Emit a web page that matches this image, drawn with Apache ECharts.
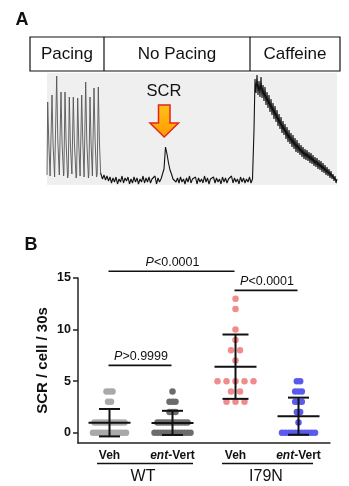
<!DOCTYPE html>
<html>
<head>
<meta charset="utf-8">
<script src="https://cdn.jsdelivr.net/npm/echarts@6/dist/echarts.min.js"></script>
<style>html,body{margin:0;padding:0;background:#fff}#c{width:349px;height:486px}</style>
</head>
<body>
<div id="c"></div>
<script>
// ---------- Panel A data (Ca2+ trace, arbitrary units) ----------
const pacingTrace = [
  [0,10],[0.7,83],[1.8,42],[3.1,9],
  [3.9,11],[5,90],[6.1,40],[7.6,8],
  [8.6,10],[9.7,109],[10.8,45],[12.3,10],
  [12.9,8],[14,93],[15.1,41],[16.6,9],
  [16.9,12],[18,93],[19.1,43],[20.6,7],
  [21.2,10],[22.3,88],[23.4,40],[24.9,11],
  [25.2,9],[26.3,88],[27.4,42],[29.1,7],
  [29.6,10],[30.7,87],[31.8,40],[33.1,9],
  [33.6,11],[34.7,90],[35.8,43],[37.1,8],
  [37.6,10],[38.7,103],[39.8,44],[41.4,7],
  [41.9,11],[43,88],[44.1,41],[45.4,9],
  [45.9,10],[47,97],[48.1,45],[49.5,8],
  [50.2,11],[51.3,98],[52.4,44],[53.6,12]
];
const restStart = 54, restStep = 1.5;
const restTrace = [
  11,6,10,5,9,4,8,
  2,7,3,8,1,6,3,9,2,7,4,8,1,6,2,8,3,7,1,6,3,9,2,7,3,8,2,6,4,9,1,7,3,6,
  5,16,38,31,22,15,11,6,8,3,
  7,2,8,3,6,1,7,3,9,2,6,4,8,1,7,3,6,2,9,3,7,1,6,4,8,2,7,3,6,1,8,3,7,2,6,4,9,2,7,3,6,1,8,3,7,2,6,3,8,2,6
];
const caffStart = 206, caffStep = 1;
const caffeineTrace = [
  5,55,106,92,110,90,104,88,108,87,100,84,98,80,93,77,90,73,86,70,82,66,79,63,75,59,71,56,68,52,
  64,50,61,46,58,43,55,41,52,38,50,36,47,33,45,32,42,30,40,28,38,26,36,25,35,24,33,22,32,21,
  30,19,28,18,27,16,25,15,24,13,22,12,20,10,18,9,16,7,14,6,11,4,9,2,6
];
const phaseLabels = ['Pacing', 'No Pacing', 'Caffeine'];

// ---------- Panel B data ----------
const categories = ['WT Veh', 'WT ent-Vert', 'I79N Veh', 'I79N ent-Vert'];
const tickLabels = ['Veh', 'ent-Vert', 'Veh', 'ent-Vert'];
const genotypes = ['WT', 'I79N'];
const wtVeh = [4,4,4,3,3,1,1,1,1,1,1,1,1,1,1,1,0,0,0,0,0,0,0,0,0,0,0,0];
const wtEnt = [4,3,3,3,2,2,2,1,1,1,1,1,1,1,1,1,1,1,0,0,0,0,0,0,0,0,0,0,0,0,0];
const i79Veh = [13,12,10,9,8,8,7,5,5,5,5,5,4,4,3,3,3];
const i79Ent = [5,5,4,4,4,3,3,3,2,2,1,0,0,0,0,0,0,0,0,0,0,0];
const groupMeans = [0.97, 0.95, 6.4, 1.6];
const groupSD = [1.33, 1.17, 3.12, 1.8];
const yTicks = [0, 5, 10, 15];
const sigPairs = [[0, 2], [2, 3], [0, 1]];
const sigLevels = [15.65, 13.8, 6.53];
const sigTexts = ['<0.0001', '<0.0001', '>0.9999'];

// ---------- build ----------
const FONT = '"Liberation Sans", Arial, sans-serif';
const restPairs = restTrace.map((v, i) => [restStart + i * restStep, v]);
const caffPairs = caffeineTrace.map((v, i) => [caffStart + i * caffStep, v]);

function swarm(vals, cat, spacing) {
  const counts = {}, seen = {};
  vals.forEach(v => counts[v] = (counts[v] || 0) + 1);
  return vals.map(v => {
    const i = seen[v] || 0; seen[v] = i + 1;
    const n = counts[v];
    return { value: [cat, v], symbolOffset: [(i - (n - 1) / 2) * spacing, 0] };
  });
}
const groups = [
  { vals: wtVeh, color: '#a9a9a9', sp: 3 },
  { vals: wtEnt, color: '#6c6c6c', sp: 3 },
  { vals: i79Veh, color: '#f08c8c', sp: 9 },
  { vals: i79Ent, color: '#5a5aef', sp: 3.3 }
];
const scatterSeries = groups.map((g, k) => ({
  type: 'scatter', xAxisIndex: 1, yAxisIndex: 1, symbol: 'circle', symbolSize: 6.5,
  itemStyle: { color: g.color, opacity: 1 }, z: 2,
  data: swarm(g.vals, k, g.sp)
}));

const chart = echarts.init(document.getElementById('c'), null, { renderer: 'canvas' });
const option = {
  animation: false,
  backgroundColor: '#fff',
  grid: [
    { left: 47, top: 73, width: 290, height: 112, show: true, backgroundColor: '#efefef', borderWidth: 0 },
    { left: 78, top: 278, width: 252, height: 165 }
  ],
  xAxis: [
    { gridIndex: 0, type: 'value', min: 0, max: 290, show: false },
    { gridIndex: 1, type: 'category', data: categories, boundaryGap: true,
      axisLine: { onZero: false, lineStyle: { color: '#222', width: 1.5 } },
      axisTick: { show: false },
      axisLabel: {
        interval: 0, margin: 7, fontFamily: FONT, fontSize: 12, fontWeight: 'bold', color: '#111',
        formatter: (v, i) => tickLabels[i] === 'ent-Vert' ? '{it|ent}-Vert' : tickLabels[i],
        rich: { it: { fontStyle: 'italic', fontWeight: 'bold', fontSize: 12, fontFamily: FONT, color: '#111' } }
      },
      splitLine: { show: false } }
  ],
  yAxis: [
    { gridIndex: 0, type: 'value', min: 0, max: 112, show: false },
    { gridIndex: 1, type: 'value', min: -1, max: 15,
      axisLine: { show: true, onZero: false, lineStyle: { color: '#222', width: 1.5 } },
      axisTick: { show: true, length: 5, customValues: yTicks, lineStyle: { color: '#222', width: 1.5 } },
      axisLabel: { customValues: yTicks, margin: 7, fontFamily: FONT, fontSize: 12.5, fontWeight: 'bold', color: '#111' },
      splitLine: { show: false },
      name: 'SCR / cell / 30s', nameLocation: 'middle', nameGap: 28, nameMoveOverlap: false,
      nameTextStyle: { fontFamily: FONT, fontSize: 15, fontWeight: 'bold', color: '#111' } }
  ],
  series: [
    { type: 'line', xAxisIndex: 0, yAxisIndex: 0, data: pacingTrace, symbol: 'none',
      lineStyle: { color: '#555', width: 0.9 }, z: 3 },
    { type: 'line', xAxisIndex: 0, yAxisIndex: 0, data: [pacingTrace[pacingTrace.length - 1]].concat(restPairs, caffPairs), symbol: 'none',
      lineStyle: { color: '#111', width: 1.1 }, z: 3 },
    ...scatterSeries,
    { type: 'custom', xAxisIndex: 1, yAxisIndex: 1, z: 5,
      data: groupMeans.map((m, i) => [i, m, groupSD[i]]),
      renderItem: (params, api) => {
        const c = api.value(0), m = api.value(1), s = api.value(2);
        const pm = api.coord([c, m]), pu = api.coord([c, m + s]), pl = api.coord([c, m - s]);
        const mh = 21, ch = c === 2 ? 13 : 10.5;
        const st = { stroke: '#111', lineWidth: 2 };
        return { type: 'group', children: [
          { type: 'line', shape: { x1: pm[0] - mh, y1: pm[1], x2: pm[0] + mh, y2: pm[1] }, style: st },
          { type: 'line', shape: { x1: pm[0], y1: pu[1], x2: pm[0], y2: pl[1] }, style: st },
          { type: 'line', shape: { x1: pm[0] - ch, y1: pu[1], x2: pm[0] + ch, y2: pu[1] }, style: st },
          { type: 'line', shape: { x1: pm[0] - ch, y1: pl[1], x2: pm[0] + ch, y2: pl[1] }, style: st }
        ] };
      } }
  ]
};
chart.setOption(option);

// ---------- annotations ----------
const g = [];
const txt = (x, y, text, size, extra) => g.push({ type: 'text', x, y, silent: true,
  style: Object.assign({ text, fontFamily: FONT, fontSize: size, fill: '#111', align: 'center', verticalAlign: 'middle' }, extra || {}) });
// Panel labels
txt(22, 20, 'A', 18, { fontWeight: 'bold' });
txt(31, 245, 'B', 18, { fontWeight: 'bold' });
// phase boxes
g.push({ type: 'rect', shape: { x: 30, y: 37, width: 310, height: 34 }, style: { fill: 'none', stroke: '#111', lineWidth: 1.2 } });
g.push({ type: 'line', shape: { x1: 104, y1: 37, x2: 104, y2: 71 }, style: { stroke: '#111', lineWidth: 1.2 } });
g.push({ type: 'line', shape: { x1: 250, y1: 37, x2: 250, y2: 71 }, style: { stroke: '#111', lineWidth: 1.2 } });
txt(67, 54, phaseLabels[0], 17);
txt(177, 54, phaseLabels[1], 17);
txt(295, 54, phaseLabels[2], 17);
// SCR arrow
txt(164, 91, 'SCR', 16.5);
g.push({ type: 'polygon', shape: { points: [[158.5,105],[170,105],[170,123],[178.5,123],[164.2,137],[150,123],[158.5,123]] },
  style: { fill: new echarts.graphic.LinearGradient(0, 0, 0, 1, [{ offset: 0, color: '#ffc21a' }, { offset: 1, color: '#ff9a00' }]),
           stroke: '#e3261b', lineWidth: 1.5 } });
// genotype underlines and labels
g.push({ type: 'line', shape: { x1: 97, y1: 463.5, x2: 193, y2: 463.5 }, style: { stroke: '#111', lineWidth: 1.6 } });
g.push({ type: 'line', shape: { x1: 222, y1: 463.5, x2: 313, y2: 463.5 }, style: { stroke: '#111', lineWidth: 1.6 } });
txt(143, 477, genotypes[0], 16);
txt(266, 477, genotypes[1], 16);
// significance bars
sigPairs.forEach((p, k) => {
  const a = chart.convertToPixel({ gridIndex: 1 }, [p[0], sigLevels[k]]);
  const b = chart.convertToPixel({ gridIndex: 1 }, [p[1], sigLevels[k]]);
  g.push({ type: 'line', shape: { x1: a[0] - 1, y1: a[1], x2: b[0] - 1, y2: b[1] }, style: { stroke: '#111', lineWidth: 1.6 } });
  g.push({ type: 'text', x: (a[0] + b[0]) / 2, y: a[1] - 2.5, silent: true,
    style: { text: '{p|P}' + sigTexts[k], fontFamily: FONT, fontSize: 12.5, fill: '#111', align: 'center', verticalAlign: 'bottom',
      rich: { p: { fontStyle: 'italic', fontFamily: FONT, fontSize: 12.5, fill: '#111', color: '#111' } } } });
});
chart.setOption({ graphic: g });
</script>
</body>
</html>
